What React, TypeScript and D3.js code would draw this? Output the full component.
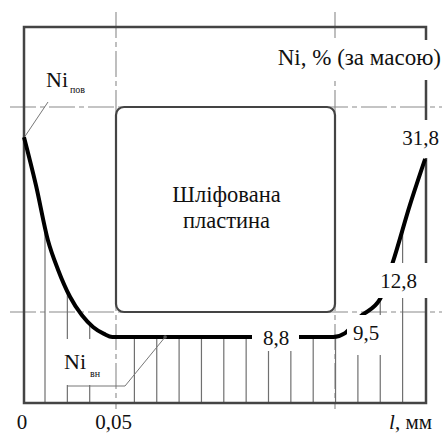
import React from "react";
import * as d3 from "d3";

// Depth profile of Ni concentration
const depthMm = [0, 0.0065, 0.013, 0.0185, 0.025, 0.0315, 0.0375, 0.0435, 0.048, 0.05, 0.1, 0.168, 0.1745, 0.1826, 0.1935, 0.2005, 0.2098, 0.218];
const niPct = [34.6, 28.4, 21.3, 17.5, 14.0, 11.6, 10.1, 9.2, 8.8, 8.8, 8.8, 8.8, 9.3, 11.4, 13.7, 18.5, 25.9, 31.8];

const xTickValues = [0, 0.05];
const xTickLabels = ["0", "0,05"];

// value labels along the curve
const valueLabels = ["8,8", "9,5", "12,8", "31,8"];
const valueLabelDepth = [0.1365, 0.1858, 0.203, 0.2155];
const valueLabelNi = [8.8, 9.5, 12.8, 31.8];

const W = 442;
const H = 433;
const FONT = "Liberation Serif, Times New Roman, DejaVu Serif, serif";

export default function App() {
  const x = d3.scaleLinear().domain([0, 0.05]).range([24, 116]);
  const y = d3.scaleLinear().domain([8.8, 31.8]).range([337, 159]);

  const left = 24, right = 426, top = 27, bottom = 403;
  const rectL = x(0.05), rectR = 335, rectT = 107, rectB = 312;

  const pts: [number, number][] = depthMm.map((d, i) => [x(d), y(niPct[i])]);
  const line = d3.line().curve(d3.curveMonotoneX)(pts) || "";
  const area = d3.area().curve(d3.curveMonotoneX).y0(bottom)(pts) || "";

  // hatch lines under the curve
  const hatchX = d3.range(17).map((k) => 45 + 22.35 * k).filter((_, k) => k !== 3);

  const dash = "26 4 5 4";
  const gray = "#444";
  const ts = { fontFamily: FONT, fill: "#111" } as React.CSSProperties;

  const lbl = valueLabels.map((t, i) => ({ t, x: x(valueLabelDepth[i]), y: y(valueLabelNi[i]) }));

  return (
    <svg width={W} height={H} style={{ position: "absolute", left: 0, top: 0, background: "#fff", fontFamily: FONT }}>
      <defs>
        <clipPath id="under">
          <path d={area} />
        </clipPath>
      </defs>
      <rect x={0} y={0} width={W} height={H} fill="#fff" />
      {/* dash-dot extension lines */}
      <line x1={rectL} x2={rectL} y1={12} y2={409} stroke="#8a8a8a" strokeWidth={1.1} strokeDasharray={dash} />
      <line x1={rectR} x2={rectR} y1={12} y2={409} stroke="#8a8a8a" strokeWidth={1.1} strokeDasharray={dash} />
      <line x1={10} x2={442} y1={rectT} y2={rectT} stroke="#8a8a8a" strokeWidth={1.1} strokeDasharray={dash} />
      <line x1={10} x2={442} y1={rectB} y2={rectB} stroke="#8a8a8a" strokeWidth={1.1} strokeDasharray={dash} />
      {/* hatching */}
      <g clipPath="url(#under)">
        {hatchX.map((hx, i) => (
          <line key={i} x1={hx} x2={hx} y1={100} y2={bottom} stroke="#707070" strokeWidth={1.2} />
        ))}
      </g>
      {/* frame */}
      <path d={`M${left},${bottom} V${top} H${right} V${bottom} Z`} fill="none" stroke={gray} strokeWidth={2.5} />
      {/* plate */}
      <rect x={rectL} y={rectT} width={rectR - rectL} height={rectB - rectT} rx={8} ry={8} fill="#fff" stroke={gray} strokeWidth={2.2} />
      <text x={(rectL + rectR) / 2 + 1} y={202} textAnchor="middle" fontSize={22.5} style={ts}>Шліфована</text>
      <text x={(rectL + rectR) / 2 + 1} y={228} textAnchor="middle" fontSize={22.5} style={ts}>пластина</text>
      {/* curve */}
      <path d={line} fill="none" stroke="#000" strokeWidth={4} strokeLinejoin="round" />
      {/* leaders */}
      <line x1={x(0) + 1} y1={y(niPct[0]) - 1} x2={48} y2={102} stroke="#777" strokeWidth={1} />
      <rect x={56} y={339} width={56} height={46} fill="#fff" />
      <polyline points={`67,386 125,386 ${x(0.0767)},${y(8.8)}`} fill="none" stroke="#777" strokeWidth={1} />
      <circle cx={x(0.0767)} cy={y(8.8)} r={1.8} fill="#555" />
      {/* label backgrounds */}
      <rect x={268} y={40} width={174} height={40} fill="#fff" />
      <rect x={252} y={324} width={47} height={27} fill="#fff" />
      <rect x={347} y={315} width={37} height={40} fill="#fff" />
      <rect x={378} y={263} width={54} height={35} fill="#fff" />
      <rect x={398} y={120} width={44} height={38} fill="#fff" />
      {/* labels */}
      <text x={441} y={65} textAnchor="end" fontSize={23} style={ts}>Ni, % (за масою)</text>
      <text x={276} y={345} textAnchor="middle" fontSize={21} style={ts}>{lbl[0].t}</text>
      <text x={366} y={340} textAnchor="middle" fontSize={21} style={ts}>{lbl[1].t}</text>
      <text x={398.5} y={288} textAnchor="middle" fontSize={21} style={ts}>{lbl[2].t}</text>
      <text x={439} y={145} textAnchor="end" fontSize={21} style={ts}>{lbl[3].t}</text>
      <text x={46} y={87} fontSize={22} style={ts}>Ni</text>
      <text x={70} y={93} fontSize={10} style={ts}>пов</text>
      <text x={64} y={369} fontSize={22} style={ts}>Ni</text>
      <text x={90} y={377} fontSize={10} style={ts}>вн</text>
      {/* x ticks */}
      {xTickValues.map((v, i) => (
        <text key={i} x={x(v) - (i === 0 ? 2 : 2.5)} y={429} textAnchor="middle" fontSize={21} style={ts}>{xTickLabels[i]}</text>
      ))}
      <text x={432} y={429} textAnchor="end" fontSize={21} style={ts}>
        <tspan fontStyle="italic">l</tspan>, мм
      </text>
    </svg>
  );
}
